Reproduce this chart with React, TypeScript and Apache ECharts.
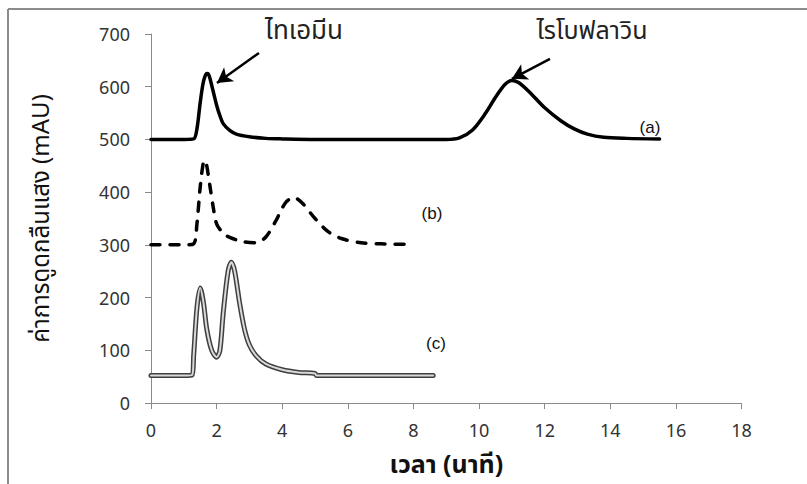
import React, { useEffect, useRef } from "react";
import * as echarts from "echarts";

// Series (a): solid line, baseline 500
const aTime = [0, 1.0, 1.3, 1.4, 1.5, 1.6, 1.7, 1.75, 1.8, 1.9, 2.0, 2.1, 2.2, 2.4, 2.6, 3.0, 3.5, 4.0, 5.0, 9.0, 9.4, 9.8, 10.2, 10.5, 10.8, 11.0, 11.2, 11.5, 12.0, 12.5, 12.9, 13.3, 13.8, 14.5, 15.5];
const aSignal = [500, 500, 501, 520, 570, 610, 625, 624, 615, 590, 565, 545, 530, 517, 510, 505, 502, 501, 500, 500, 503, 518, 550, 580, 605, 612, 608, 592, 560, 535, 520, 510, 504, 502, 501];

// Series (b): dashed line, baseline 300
const bTime = [0, 1.0, 1.3, 1.4, 1.5, 1.6, 1.65, 1.7, 1.8, 1.9, 2.0, 2.2, 2.4, 2.8, 3.2, 3.5, 3.8, 4.1, 4.35, 4.6, 5.0, 5.4, 5.8, 6.4, 7.0, 7.8];
const bSignal = [300, 300, 302, 340, 410, 458, 460, 450, 410, 370, 340, 322, 314, 306, 304, 315, 345, 380, 390, 380, 350, 325, 312, 304, 302, 301];

// Series (c): double line, baseline ~52
const cTime = [0, 1.0, 1.25, 1.3, 1.4, 1.5, 1.6, 1.7, 1.85, 2.0, 2.1, 2.2, 2.35, 2.45, 2.55, 2.7, 2.85, 3.0, 3.2, 3.5, 4.0, 4.5, 5.0, 5.05, 8.6];
const cSignal = [52, 52, 53, 90, 180, 218, 190, 140, 100, 87, 100, 170, 250, 267, 250, 190, 140, 110, 90, 74, 63, 58, 56, 52, 52];

const xMin = 0, xMax = 18, xStep = 2;
const yMin = 0, yMax = 700, yStep = 100;

const yTitle = "ค่าการดูดกลืนแสง (mAU)";
const xTitle = "เวลา (นาที)";
const peakNames = ["ไทเอมีน", "ไรโบฟลาวิน"];
const seriesLabels = ["(a)", "(b)", "(c)"];

// arrow annotations in data coordinates [from, to]
const arrows = [
  [[3.29, 664], [2.01, 607]],
  [[12.16, 653], [11.0, 615]],
];

const pairs = (xs: number[], ys: number[]) => xs.map((x, i) => [x, ys[i]]);

const THAI = "'Noto Sans Thai', 'Noto Sans Thai Looped', Tahoma, 'Noto Sans', sans-serif";
const NUM = "'Noto Sans', 'DejaVu Sans', sans-serif";
const LAB = "'Liberation Sans', Arial, sans-serif";

export default function App() {
  const ref = useRef<HTMLDivElement>(null);
  useEffect(() => {
    if (!ref.current) return;
    const chart = echarts.init(ref.current, undefined, { renderer: "svg" });
    const axisColor = "#8a8a8a";
    chart.setOption({
      animation: false,
      backgroundColor: "#fff",
      grid: { left: 151, top: 34, width: 590.6, height: 369, containLabel: false },
      xAxis: {
        type: "value",
        min: xMin,
        max: xMax,
        interval: xStep,
        name: xTitle,
        nameLocation: "middle",
        nameGap: 49,
        nameTextStyle: { fontFamily: THAI, fontSize: 25, fontWeight: "bold", color: "#111" },
        axisLine: { show: true, lineStyle: { color: axisColor, width: 1 } },
        axisTick: { show: true, inside: false, length: 6, lineStyle: { color: axisColor } },
        axisLabel: { fontFamily: NUM, fontSize: 18, color: "#333", margin: 18 },
        splitLine: { show: false },
      },
      yAxis: {
        type: "value",
        min: yMin,
        max: yMax,
        interval: yStep,
        name: yTitle,
        nameLocation: "middle",
        nameGap: 97,
        nameRotate: 90,
        nameTextStyle: { fontFamily: THAI, fontSize: 24, color: "#111" },
        axisLine: { show: true, lineStyle: { color: axisColor, width: 1 } },
        axisTick: { show: true, inside: false, length: 6, lineStyle: { color: axisColor } },
        axisLabel: { fontFamily: NUM, fontSize: 18, color: "#333", margin: 21 },
        splitLine: { show: false },
      },
      series: [
        {
          name: "(a)",
          type: "line",
          data: pairs(aTime, aSignal),
          showSymbol: false,
          smooth: 0.3,
          lineStyle: { color: "#000", width: 3.5, cap: "round", join: "round" },
          markLine: {
            silent: true,
            symbol: ["none", "arrow"],
            symbolSize: [13, 15],
            label: { show: false },
            lineStyle: { color: "#000", width: 2.5, type: "solid" },
            data: arrows.map((ar) => [{ coord: ar[0] }, { coord: ar[1] }]),
          },
        },
        {
          name: "(b)",
          type: "line",
          data: pairs(bTime, bSignal),
          showSymbol: false,
          smooth: 0.3,
          lineStyle: { color: "#000", width: 3.5, type: [9, 10], cap: "round", join: "round" },
        },
        {
          name: "(c)",
          type: "line",
          data: pairs(cTime, cSignal),
          showSymbol: false,
          smooth: 0.3,
          lineStyle: { color: "#3f3f3f", width: 5, cap: "round", join: "round" },
        },
        {
          name: "(c) inner",
          type: "line",
          data: pairs(cTime, cSignal),
          showSymbol: false,
          smooth: 0.3,
          lineStyle: { color: "#d9d9d9", width: 2, cap: "round", join: "round" },
        },
      ],
      graphic: [
        { type: "line", shape: { x1: 8, y1: 9, x2: 807, y2: 9 }, style: { stroke: "#8c8c8c", lineWidth: 2 } },
        { type: "line", shape: { x1: 8, y1: 9, x2: 8, y2: 484 }, style: { stroke: "#8c8c8c", lineWidth: 2 } },
        {
          type: "text", x: 304, y: 31,
          style: { text: peakNames[0], font: `26px ${THAI}`, fill: "#222", align: "center", verticalAlign: "middle" },
        },
        {
          type: "text", x: 592, y: 31,
          style: { text: peakNames[1], font: `25px ${THAI}`, fill: "#222", align: "center", verticalAlign: "middle" },
        },
        {
          type: "text", x: 650, y: 127,
          style: { text: seriesLabels[0], font: `17px ${LAB}`, fill: "#111", align: "center", verticalAlign: "middle" },
        },
        {
          type: "text", x: 432, y: 213,
          style: { text: seriesLabels[1], font: `17px ${LAB}`, fill: "#111", align: "center", verticalAlign: "middle" },
        },
        {
          type: "text", x: 436, y: 343,
          style: { text: seriesLabels[2], font: `17px ${LAB}`, fill: "#111", align: "center", verticalAlign: "middle" },
        },
      ],
    });
    return () => chart.dispose();
  }, []);
  return (
    <div
      ref={ref}
      style={{ position: "fixed", left: 0, top: 0, width: 807, height: 484, background: "#fff" }}
    />
  );
}
